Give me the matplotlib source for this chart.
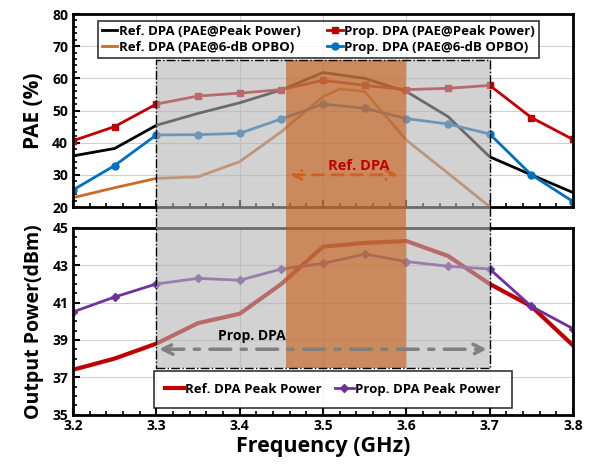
import matplotlib.pyplot as plt
import numpy as np
from matplotlib.patches import Rectangle, FancyArrowPatch
from matplotlib.transforms import blended_transform_factory
from matplotlib.ticker import MultipleLocator, AutoMinorLocator

plt.rcParams['font.family'] = ['Open Sans', 'DejaVu Sans']
plt.rcParams['font.weight'] = 'bold'

freq = [3.2, 3.25, 3.3, 3.35, 3.4, 3.45, 3.5, 3.55, 3.6, 3.65, 3.7, 3.75, 3.8]

# PAE (%)
ref_pae_peak = [35.9, 38.2, 45.4, 49.1, 52.4, 56.4, 61.8, 60.0, 55.9, 48.1, 35.6, 30.0, 24.5]
prop_pae_peak = [40.6, 45.0, 52.0, 54.5, 55.4, 56.5, 59.4, 57.8, 56.5, 56.9, 57.8, 47.8, 41.0]
freq_ref_obo = [3.2, 3.25, 3.3, 3.35, 3.4, 3.45, 3.5, 3.52, 3.55, 3.6, 3.65, 3.7]
ref_pae_obo = [22.9, 26.0, 28.9, 29.4, 34.1, 43.4, 54.3, 56.7, 55.9, 40.8, 30.5, 20.1]
prop_pae_obo = [25.3, 32.9, 42.4, 42.5, 42.9, 47.4, 52.0, 50.7, 47.5, 45.8, 42.7, 30.0, 21.7]

# Output power (dBm)
ref_pout = [37.4, 38.0, 38.8, 39.9, 40.4, 42.0, 44.0, 44.2, 44.3, 43.5, 42.0, 40.8, 38.7]
prop_pout = [40.5, 41.3, 42.0, 42.3, 42.2, 42.8, 43.1, 43.6, 43.2, 42.95, 42.8, 40.8, 39.6]

fig = plt.figure(figsize=(5.96, 4.67), dpi=100)
ax1 = fig.add_axes([0.1225, 0.5567, 0.839, 0.4133])
ax2 = fig.add_axes([0.1225, 0.1124, 0.839, 0.3994])

# order so the 2-column legend reads ref | prop
ax1.plot(freq, ref_pae_peak, '-', color='black', lw=2, label='Ref. DPA (PAE@Peak Power)')
ax1.plot(freq_ref_obo, ref_pae_obo, '-', color='#CC6A28', lw=2, label='Ref. DPA (PAE@6-dB OPBO)')
ax1.plot(freq, prop_pae_peak, 's-', color='#C00000', lw=2, ms=5, label='Prop. DPA (PAE@Peak Power)')
ax1.plot(freq, prop_pae_obo, 'o-', color='#0070C0', lw=2, ms=5, label='Prop. DPA (PAE@6-dB OPBO)')

ax2.plot(freq, ref_pout, '-', color='#C00000', lw=3, label='Ref. DPA Peak Power')
ax2.plot(freq, prop_pout, 'D-', color='#7030A0', lw=2, ms=4, label='Prop. DPA Peak Power')

for ax in (ax1, ax2):
    ax.set_xlim(3.2, 3.8)
    ax.xaxis.set_major_locator(MultipleLocator(0.1))
    ax.xaxis.set_minor_locator(MultipleLocator(0.02))
    ax.yaxis.set_minor_locator(AutoMinorLocator(5))
    ax.grid(True, which='major', color='#d0d0d0', lw=0.8)
    ax.set_axisbelow(True)
    ax.tick_params(which='both', direction='in', labelsize=10)
    ax.tick_params(which='major', length=5, width=1.5)
    ax.tick_params(which='minor', length=3, width=1.2)
    for s in ax.spines.values():
        s.set_linewidth(2)

ax1.set_ylim(20, 80)
ax1.yaxis.set_major_locator(MultipleLocator(10))
ax1.tick_params(labelbottom=False)
ax1.set_ylabel('PAE (%)', fontsize=15, fontweight='bold', labelpad=6)

ax2.set_ylim(35, 45)
ax2.set_yticks([35, 37, 39, 41, 43, 45])
ax2.yaxis.set_minor_locator(MultipleLocator(0.5))
ax2.set_ylabel('Output Power(dBm)', fontsize=14, fontweight='bold', labelpad=6)
ax2.set_xlabel('Frequency (GHz)', fontsize=15.5, fontweight='bold', labelpad=2)
for lab in ax1.get_yticklabels() + ax2.get_yticklabels() + ax2.get_xticklabels():
    lab.set_fontweight('bold')

# shaded bands spanning both panels, drawn over the curves
tr = blended_transform_factory(ax1.transData, fig.transFigure)
y0, y1 = 0.211, 0.8715
gray = Rectangle((3.3, y0), 0.4, y1 - y0, transform=tr, facecolor='#b4b4b4',
                 alpha=0.6, edgecolor='none', zorder=5)
orange = Rectangle((3.455, y0), 0.145, y1 - y0, transform=tr, facecolor='#C55A11',
                   alpha=0.6, edgecolor='none', zorder=6)
border = Rectangle((3.3, y0), 0.4, y1 - y0, transform=tr, facecolor='none',
                   edgecolor='black', lw=1, linestyle='-.', zorder=7)
for p in (gray, orange, border):
    fig.add_artist(p)

# annotations on top of the bands
arr1 = FancyArrowPatch((3.457, 30), (3.593, 30), transform=ax1.transData,
                       arrowstyle='<->', color='#D06020', lw=2, linestyle=(0, (4, 3)),
                       mutation_scale=16, zorder=10)
arr2 = FancyArrowPatch((3.3, 38.5), (3.7, 38.5), transform=ax2.transData,
                       arrowstyle='<->', color='#808080', lw=2.5,
                       linestyle=(0, (6, 3, 1.5, 3)), mutation_scale=18, zorder=10)
fig.add_artist(arr1)
fig.add_artist(arr2)
fig.text(3.543, 32.6, 'Ref. DPA', transform=ax1.transData, color='#C00000', fontsize=10.5,
         fontweight='bold', ha='center', va='center', zorder=10)
fig.text(3.415, 39.2, 'Prop. DPA', transform=ax2.transData, color='black', fontsize=10,
         fontweight='bold', ha='center', va='center', zorder=10)

leg1 = ax1.legend(ncol=2, loc='upper left', bbox_to_anchor=(0.036, 1.0),
                  frameon=True, fancybox=False, edgecolor='black', handlelength=1.2,
                  handletextpad=0.1, columnspacing=2.0, borderpad=0.3, labelspacing=0.25,
                  prop={'weight': 'bold', 'size': 9.5})
leg1.get_frame().set_linewidth(1.2)
leg1.set_zorder(20)

leg2 = ax2.legend(ncol=2, loc='lower left', bbox_to_anchor=(0.148, 0.0), frameon=True,
                  fancybox=False, edgecolor='black', handlelength=1.4, handletextpad=0.1,
                  columnspacing=1.0, borderpad=0.9, prop={'weight': 'bold', 'size': 9.5})
leg2.get_frame().set_linewidth(1.2)
leg2.set_zorder(20)

plt.savefig('out.png', dpi=100)
